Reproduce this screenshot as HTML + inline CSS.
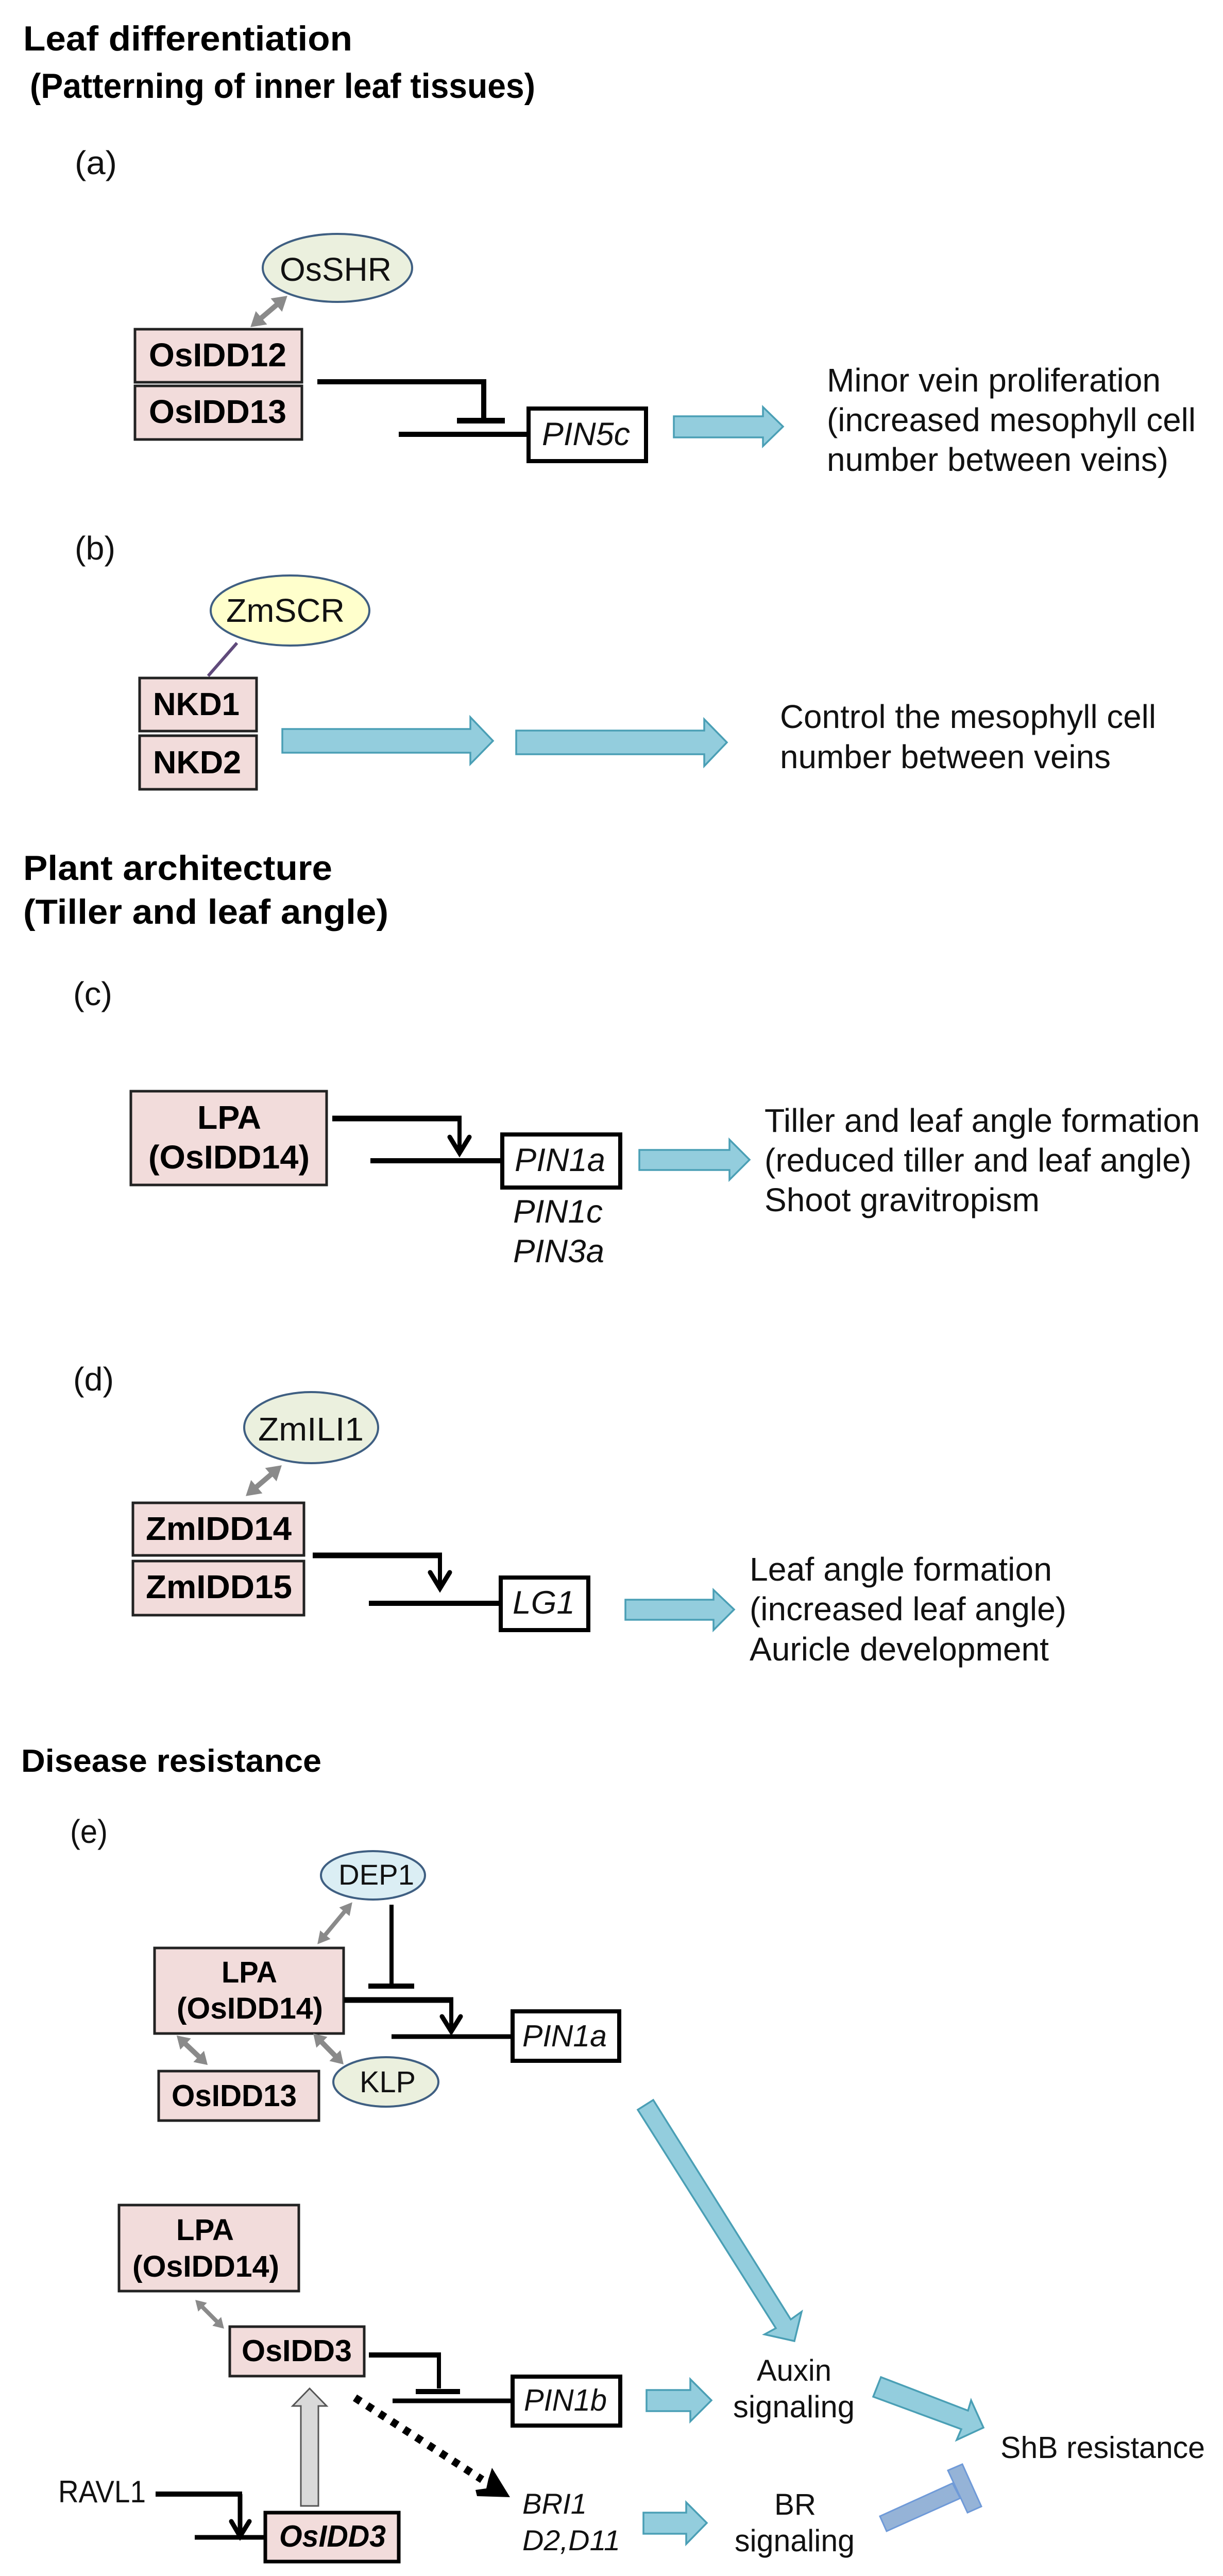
<!DOCTYPE html>
<html lang="en">
<head>
<meta charset="utf-8">
<title>IDD pathways diagram</title>
<style>
html,body{margin:0;padding:0;background:#fff;width:2374px;height:5010px}
svg{display:block;width:2374px;height:5010px}
text{font-family:"Liberation Sans",Arial,sans-serif;fill:#111}
.b{font-weight:bold;fill:#000}
.i{font-style:italic}
.pk{fill:#f2dcdb;stroke:#222;stroke-width:5}
.wb{fill:#fff;stroke:#000;stroke-width:8}
.ar{fill:#93cddd;stroke:#4a9fb5;stroke-width:3.5;stroke-linejoin:miter}
.ln{fill:none;stroke:#000;stroke-linecap:butt;stroke-linejoin:miter}
.v{fill:none;stroke:#000;stroke-width:9;stroke-linecap:round;stroke-linejoin:miter}
.g{fill:#8a8a8a}
</style>
</head>
<body>
<svg xmlns="http://www.w3.org/2000/svg" viewBox="0 0 2374 5010">
<rect width="2374" height="5010" fill="#fff"/>

<!-- Panel a -->
<text x="45" y="98" class="b" font-size="68" textLength="639" lengthAdjust="spacingAndGlyphs">Leaf differentiation</text>
<text x="58" y="190" class="b" font-size="68" textLength="981" lengthAdjust="spacingAndGlyphs">(Patterning of inner leaf tissues)</text>
<text x="145" y="338" font-size="64" textLength="82" lengthAdjust="spacingAndGlyphs">(a)</text>

<ellipse cx="655" cy="520" rx="145" ry="66" fill="#ebf0de" stroke="#3f5f82" stroke-width="4"/>
<text x="543" y="545" font-size="64" textLength="217" lengthAdjust="spacingAndGlyphs">OsSHR</text>
<polygon class="g" transform="translate(522 604.5) rotate(-40.3)" points="-47,0 -19,-17 -19,-5 19,-5 19,-17 47,0 19,17 19,5 -19,5 -19,17"/>

<rect x="262" y="639" width="324" height="103" class="pk"/>
<rect x="262" y="749" width="324" height="104" class="pk"/>
<text x="289" y="711" class="b" font-size="64" textLength="267" lengthAdjust="spacingAndGlyphs">OsIDD12</text>
<text x="289" y="821" class="b" font-size="64" textLength="267" lengthAdjust="spacingAndGlyphs">OsIDD13</text>

<path d="M616 741H939V817" class="ln" stroke-width="10"/>
<rect x="887" y="811" width="93" height="11" fill="#000"/>
<path d="M774 843H1023" class="ln" stroke-width="10"/>
<rect x="1026" y="793" width="228" height="102" class="wb"/>
<text x="1052" y="864" class="i" font-size="63" textLength="171" lengthAdjust="spacingAndGlyphs">PIN5c</text>
<polygon points="1308,808 1481,808 1481,790 1520,828 1481,866 1481,849 1308,849" class="ar"/>

<text x="1605" y="760" font-size="64" textLength="648" lengthAdjust="spacingAndGlyphs">Minor vein proliferation</text>
<text x="1605" y="837" font-size="64" textLength="716" lengthAdjust="spacingAndGlyphs">(increased mesophyll cell</text>
<text x="1605" y="914" font-size="64" textLength="663" lengthAdjust="spacingAndGlyphs">number between  veins)</text>

<!-- Panel b -->
<text x="145" y="1086" font-size="64" textLength="79" lengthAdjust="spacingAndGlyphs">(b)</text>
<ellipse cx="563" cy="1185" rx="154" ry="68" fill="#ffffcc" stroke="#3f5f82" stroke-width="4"/>
<text x="439" y="1207" font-size="64" textLength="230" lengthAdjust="spacingAndGlyphs">ZmSCR</text>
<line x1="460" y1="1248" x2="404" y2="1312" stroke="#604a7b" stroke-width="6"/>
<rect x="271" y="1316" width="227" height="103" class="pk"/>
<rect x="271" y="1428" width="227" height="104" class="pk"/>
<text x="297" y="1388" class="b" font-size="62" textLength="168" lengthAdjust="spacingAndGlyphs">NKD1</text>
<text x="297" y="1501" class="b" font-size="62" textLength="171" lengthAdjust="spacingAndGlyphs">NKD2</text>
<polygon points="548,1415 913,1415 913,1392 957,1438 913,1483 913,1461 548,1461" class="ar"/>
<polygon points="1002,1418 1367,1418 1367,1396 1411,1441 1367,1487 1367,1464 1002,1464" class="ar"/>
<text x="1514" y="1413" font-size="64" textLength="730" lengthAdjust="spacingAndGlyphs">Control the mesophyll cell</text>
<text x="1514" y="1491" font-size="64" textLength="642" lengthAdjust="spacingAndGlyphs">number between  veins</text>

<!-- Plant architecture -->
<text x="45" y="1708" class="b" font-size="68" textLength="600" lengthAdjust="spacingAndGlyphs">Plant architecture</text>
<text x="45" y="1793" class="b" font-size="68" textLength="709" lengthAdjust="spacingAndGlyphs">(Tiller and leaf angle)</text>
<text x="142" y="1951" font-size="64" textLength="76" lengthAdjust="spacingAndGlyphs">(c)</text>

<!-- Panel c -->
<rect x="254" y="2118" width="380" height="182" class="pk"/>
<text x="383" y="2191" class="b" font-size="64" textLength="124" lengthAdjust="spacingAndGlyphs">LPA</text>
<text x="288" y="2268" class="b" font-size="64" textLength="313" lengthAdjust="spacingAndGlyphs">(OsIDD14)</text>
<path d="M892 2171V2240" class="ln" stroke-width="8"/>
<path d="M645 2171H896" class="ln" stroke-width="11"/>
<path d="M873 2207L892 2238L911 2207" class="v"/>
<path d="M719 2253H972" class="ln" stroke-width="10"/>
<rect x="975" y="2202" width="229" height="103" class="wb"/>
<text x="999" y="2273" class="i" font-size="63" textLength="176" lengthAdjust="spacingAndGlyphs">PIN1a</text>
<text x="996" y="2373" class="i" font-size="63" textLength="174" lengthAdjust="spacingAndGlyphs">PIN1c</text>
<text x="996" y="2450" class="i" font-size="63" textLength="177" lengthAdjust="spacingAndGlyphs">PIN3a</text>
<polygon points="1241,2232 1416,2232 1416,2212 1455,2251 1416,2290 1416,2271 1241,2271" class="ar"/>
<text x="1484" y="2197" font-size="64" textLength="845" lengthAdjust="spacingAndGlyphs">Tiller and leaf angle formation</text>
<text x="1484" y="2274" font-size="64" textLength="829" lengthAdjust="spacingAndGlyphs">(reduced tiller and leaf angle)</text>
<text x="1484" y="2351" font-size="64" textLength="534" lengthAdjust="spacingAndGlyphs">Shoot gravitropism</text>

<!-- Panel d -->
<text x="142" y="2699" font-size="64" textLength="79" lengthAdjust="spacingAndGlyphs">(d)</text>
<ellipse cx="604" cy="2771" rx="130" ry="69" fill="#ebf0de" stroke="#3f5f82" stroke-width="4"/>
<text x="501" y="2796" font-size="64" textLength="205" lengthAdjust="spacingAndGlyphs">ZmILI1</text>
<polygon class="g" transform="translate(512 2874) rotate(-40.6)" points="-46,0 -18,-17 -18,-5 18,-5 18,-17 46,0 18,17 18,5 -18,5 -18,17"/>
<rect x="258" y="2917" width="332" height="102" class="pk"/>
<rect x="258" y="3030" width="332" height="105" class="pk"/>
<text x="283" y="2989" class="b" font-size="64" textLength="283" lengthAdjust="spacingAndGlyphs">ZmIDD14</text>
<text x="283" y="3102" class="b" font-size="64" textLength="284" lengthAdjust="spacingAndGlyphs">ZmIDD15</text>
<path d="M854 3019V3085" class="ln" stroke-width="8"/>
<path d="M607 3019H858" class="ln" stroke-width="11"/>
<path d="M835 3052L854 3083L873 3052" class="v"/>
<path d="M716 3112H969" class="ln" stroke-width="10"/>
<rect x="972" y="3062" width="170" height="102" class="wb"/>
<text x="995" y="3132" class="i" font-size="63" textLength="121" lengthAdjust="spacingAndGlyphs">LG1</text>
<polygon points="1214,3105 1385,3105 1385,3086 1425,3124 1385,3164 1385,3144 1214,3144" class="ar"/>
<text x="1455" y="3068" font-size="64" textLength="587" lengthAdjust="spacingAndGlyphs">Leaf angle formation</text>
<text x="1455" y="3145" font-size="64" textLength="615" lengthAdjust="spacingAndGlyphs">(increased leaf angle)</text>
<text x="1455" y="3223" font-size="64" textLength="581" lengthAdjust="spacingAndGlyphs">Auricle development</text>

<!-- Disease resistance -->
<text x="41" y="3439" class="b" font-size="62" textLength="583" lengthAdjust="spacingAndGlyphs">Disease resistance</text>
<text x="136" y="3577" font-size="64" textLength="73" lengthAdjust="spacingAndGlyphs">(e)</text>

<!-- Panel e top -->
<ellipse cx="724" cy="3640" rx="101" ry="47" fill="#dbeef4" stroke="#3f5f82" stroke-width="4"/>
<text x="657" y="3658" font-size="56" textLength="147" lengthAdjust="spacingAndGlyphs">DEP1</text>
<polygon class="g" transform="translate(650 3733) rotate(-50.3)" points="-53,0 -29,-13 -29,-4 29,-4 29,-13 53,0 29,13 29,4 -29,4 -29,13"/>
<path d="M760 3697V3852" class="ln" stroke-width="8"/>
<rect x="715" y="3850" width="89" height="10" fill="#000"/>
<rect x="300" y="3781" width="367" height="166" class="pk"/>
<text x="430" y="3848" class="b" font-size="58" textLength="108" lengthAdjust="spacingAndGlyphs">LPA</text>
<text x="343" y="3918" class="b" font-size="58" textLength="284" lengthAdjust="spacingAndGlyphs">(OsIDD14)</text>
<path d="M876 3882V3944" class="ln" stroke-width="8"/>
<path d="M668 3882H880" class="ln" stroke-width="11"/>
<path d="M858 3914L876 3943L894 3914" class="v"/>
<path d="M760 3953H992" class="ln" stroke-width="9"/>
<rect x="995" y="3904" width="207" height="96" class="wb" stroke-width="7"/>
<text x="1014" y="3972" class="i" font-size="59" textLength="164" lengthAdjust="spacingAndGlyphs">PIN1a</text>
<polygon class="g" transform="translate(373 3979.5) rotate(43.5)" points="-41.5,0 -17.5,-15 -17.5,-5 17.5,-5 17.5,-15 41.5,0 17.5,15 17.5,5 -17.5,5 -17.5,15"/>
<polygon class="g" transform="translate(637.5 3977) rotate(45.5)" points="-42,0 -18,-15 -18,-5 18,-5 18,-15 42,0 18,15 18,5 -18,5 -18,15"/>
<rect x="308" y="4020" width="311" height="96" class="pk"/>
<text x="333" y="4088" class="b" font-size="59" textLength="243" lengthAdjust="spacingAndGlyphs">OsIDD13</text>
<ellipse cx="749" cy="4041" rx="102" ry="48" fill="#ebf0de" stroke="#3f5f82" stroke-width="4"/>
<text x="698" y="4061" font-size="58" textLength="109" lengthAdjust="spacingAndGlyphs">KLP</text>

<!-- Big arrow -->
<polygon points="1238,4095 1268,4076 1535,4502 1556,4487 1542,4544 1484,4531 1506,4519" class="ar"/>

<!-- Panel e bottom -->
<rect x="231" y="4280" width="349" height="167" class="pk"/>
<text x="342" y="4348" class="b" font-size="58" textLength="112" lengthAdjust="spacingAndGlyphs">LPA</text>
<text x="257" y="4419" class="b" font-size="58" textLength="285" lengthAdjust="spacingAndGlyphs">(OsIDD14)</text>
<polygon class="g" transform="translate(407 4492) rotate(45)" points="-39.5,0 -19.5,-12 -19.5,-4 19.5,-4 19.5,-12 39.5,0 19.5,12 19.5,4 -19.5,4 -19.5,12"/>
<rect x="446" y="4516" width="261" height="96" class="pk"/>
<text x="469" y="4583" class="b" font-size="59" textLength="214" lengthAdjust="spacingAndGlyphs">OsIDD3</text>
<path d="M852 4571V4636" class="ln" stroke-width="8"/>
<path d="M716 4571H856" class="ln" stroke-width="10"/>
<rect x="807" y="4637" width="86" height="10" fill="#000"/>
<path d="M762 4660H992" class="ln" stroke-width="9"/>
<rect x="995" y="4613" width="209" height="95" class="wb" stroke-width="7"/>
<text x="1017" y="4679" class="i" font-size="59" textLength="161" lengthAdjust="spacingAndGlyphs">PIN1b</text>
<polygon points="1255,4639 1340,4639 1340,4618 1381,4659 1340,4700 1340,4680 1255,4680" class="ar"/>
<text x="1469" y="4621" font-size="58" textLength="145" lengthAdjust="spacingAndGlyphs">Auxin</text>
<text x="1423" y="4692" font-size="60" textLength="236" lengthAdjust="spacingAndGlyphs">signaling</text>
<polygon points="1710,4614 1879,4679 1885,4659 1909,4712 1857,4736 1866,4715 1695,4652" class="ar"/>
<text x="1942" y="4771" font-size="59" textLength="397" lengthAdjust="spacingAndGlyphs">ShB resistance</text>

<polygon points="1708,4884 1849,4820 1864,4849 1721,4913" fill="#95b3d7" stroke="#6f9ad8" stroke-width="3"/>
<polygon points="1840,4795 1868,4783 1905,4865 1878,4877" fill="#95b3d7" stroke="#6f9ad8" stroke-width="3"/>

<line x1="689" y1="4654" x2="936" y2="4813" stroke="#000" stroke-width="15" stroke-dasharray="13 15.3"/>
<polygon points="955,4790 990,4847 926,4845 923,4833 944,4830 948,4812" fill="#000"/>

<text x="1014" y="4879" class="i" font-size="56" textLength="125" lengthAdjust="spacingAndGlyphs">BRI1</text>
<text x="1014" y="4950" class="i" font-size="56" textLength="190" lengthAdjust="spacingAndGlyphs">D2,D11</text>
<polygon points="1249,4877 1332,4877 1332,4857 1372,4897 1332,4938 1332,4918 1249,4918" class="ar"/>
<text x="1503" y="4881" font-size="58" textLength="81" lengthAdjust="spacingAndGlyphs">BR</text>
<text x="1426" y="4952" font-size="60" textLength="233" lengthAdjust="spacingAndGlyphs">signaling</text>

<polygon points="584,4864 618,4864 618,4670 634,4670 601,4636 568,4670 584,4670" fill="#d9d9d9" stroke="#555" stroke-width="3"/>
<text x="113" y="4857" font-size="60" textLength="170" lengthAdjust="spacingAndGlyphs">RAVL1</text>
<path d="M466 4841V4925" class="ln" stroke-width="9"/>
<path d="M302 4841H470" class="ln" stroke-width="10"/>
<path d="M449 4894L466 4923L484 4894" class="v"/>
<path d="M378 4925H512" class="ln" stroke-width="9"/>
<rect x="515" y="4877" width="259" height="95" fill="#f2dcdb" stroke="#000" stroke-width="7"/>
<text x="542" y="4943" class="b i" font-size="59" textLength="207" lengthAdjust="spacingAndGlyphs">OsIDD3</text>
</svg>
</body>
</html>
